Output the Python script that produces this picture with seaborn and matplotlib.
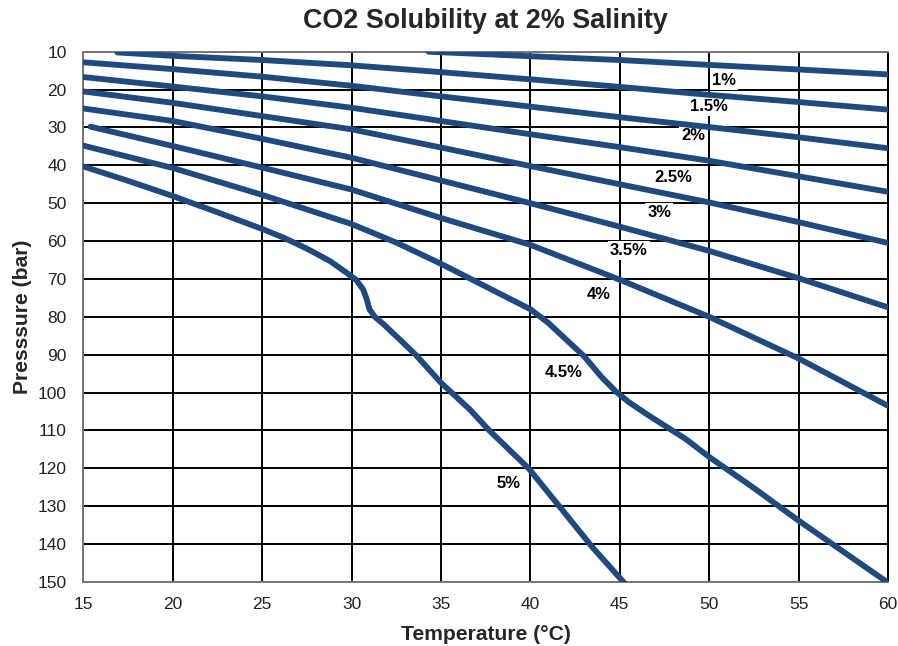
import matplotlib
matplotlib.use("Agg")
import matplotlib.pyplot as plt
import seaborn as sns
import pandas as pd

# Solubility isolines: temperature (°C) and pressure (bar) per CO2 content
salinity_labels = ["1%", "1.5%", "2%", "2.5%", "3%", "3.5%", "4%", "4.5%", "5%"]

t_1 = [34.3, 40, 45, 50, 55, 60]
p_1 = [10.0, 11.2, 12.2, 13.5, 14.7, 16.0]

t_15 = [16.9, 20, 25, 30, 35, 40, 45, 50, 55, 60]
p_15 = [10.2, 11.1, 12.2, 13.6, 15.4, 17.3, 19.3, 21.4, 23.3, 25.3]

t_2 = [15, 20, 25, 30, 35, 40, 45, 50, 55, 60]
p_2 = [12.8, 14.6, 16.6, 19.0, 21.8, 24.5, 27.3, 29.9, 32.6, 35.5]

t_25 = [15, 20, 25, 30, 35, 40, 45, 50, 55, 60]
p_25 = [16.7, 19.2, 21.8, 24.8, 28.3, 31.8, 35.2, 38.8, 42.9, 47.0]

t_3 = [15, 20, 25, 30, 35, 40, 45, 50, 55, 60]
p_3 = [20.5, 23.5, 27.0, 30.5, 35.3, 40.2, 45.0, 49.8, 55.0, 60.5]

t_35 = [15, 20, 25, 30, 35, 40, 45, 50, 55, 60]
p_35 = [25.0, 28.3, 33.0, 38.0, 44.0, 50.0, 56.2, 62.6, 69.8, 77.5]

t_4 = [15.4, 20, 25, 30, 35, 40, 45, 50, 55, 60]
p_4 = [29.8, 34.9, 40.6, 46.4, 53.9, 61.0, 70.2, 80.0, 91.0, 103.5]

t_45 = [15, 20, 25, 30, 32.5, 35, 37.5, 40, 41, 42, 43, 44, 44.8, 45.5, 46.6, 48.7, 50,
        52.5, 55, 57.5, 60]
p_45 = [34.8, 40.7, 47.8, 55.5, 60.4, 66.0, 72.0, 78.0, 81.6, 86.0, 90.4, 96.0, 99.8, 102.5,
        106.0, 112.3, 117.0, 125.2, 133.8, 142.0, 150.2]

t_5 = [15, 17.5, 20, 22.5, 25, 26.2, 27.5, 28.8, 29.7, 30.25, 30.65, 30.85, 31.0, 31.3, 31.8,
       32.7, 33.6, 35.0, 36.6, 37.7, 39.9, 41.7, 43.5, 45.3]
p_5 = [40.3, 44.1, 48.1, 52.4, 56.8, 59.1, 62.0, 65.3, 68.3, 70.2, 72.8, 75.4, 78.0, 80.0, 82.0,
       86.0, 90.1, 97.4, 104.4, 110.0, 120.0, 130.5, 141.0, 150.5]

curves = [(t_1, p_1), (t_15, p_15), (t_2, p_2), (t_25, p_25), (t_3, p_3),
          (t_35, p_35), (t_4, p_4), (t_45, p_45), (t_5, p_5)]

# Where each curve's label sits (temperature, pressure)
label_t = [50.8, 50.0, 49.1, 48.0, 47.2, 45.5, 43.8, 41.85, 38.8]
label_p = [17.5, 24.6, 32.0, 43.2, 52.4, 62.5, 74.1, 94.7, 124.0]

x_ticks = [15, 20, 25, 30, 35, 40, 45, 50, 55, 60]
y_ticks = [10, 20, 30, 40, 50, 60, 70, 80, 90, 100, 110, 120, 130, 140, 150]

rows = []
for name, (ts, ps) in zip(salinity_labels, curves):
    for order, (t, p) in enumerate(zip(ts, ps)):
        rows.append({"Salinity": name, "order": order, "Temperature": t, "Pressure": p})
df = pd.DataFrame(rows)

sns.set_style("white")
plt.rcParams["font.family"] = ["Liberation Sans", "DejaVu Sans"]

line_color = "#1F4A80"

fig = plt.figure(figsize=(8.98, 6.46), dpi=100)
ax = fig.add_axes([0.0928, 0.0991, 0.8961, 0.8209])

sns.lineplot(data=df, x="Temperature", y="Pressure", hue="Salinity",
             palette={s: line_color for s in salinity_labels}, units="Salinity",
             estimator=None, sort=False, legend=False, linewidth=4.2, ax=ax,
             solid_capstyle="round", solid_joinstyle="round", zorder=4)

for txt, t, p in zip(salinity_labels, label_t, label_p):
    ax.text(t, p, txt, ha="center", va="center", fontsize=12, fontweight="bold",
            color="black", zorder=3,
            bbox=dict(facecolor="white", edgecolor="none", pad=1.5))

ax.set_xlim(15, 60)
ax.set_ylim(150, 10)
ax.set_xticks(x_ticks)
ax.set_yticks(y_ticks)
ax.grid(True, color="black", linewidth=1.4, zorder=1)
ax.set_axisbelow(True)
for side in ["left", "bottom", "top"]:
    ax.spines[side].set_color("#777777")
    ax.spines[side].set_linewidth(1.4)
ax.spines["right"].set_color("black")
ax.spines["right"].set_linewidth(1.4)

ax.tick_params(axis="x", length=4, color="#999999", labelsize=12.5, labelcolor="#222222", pad=7)
ax.tick_params(axis="y", length=0, labelsize=12.5, labelcolor="#222222", pad=12)

ax.set_xlabel("Temperature (°C)", fontsize=15.2, fontweight="bold", labelpad=9)
ax.set_ylabel("Presssure (bar)", fontsize=15.2, fontweight="bold", labelpad=4)
ax.set_title("CO2 Solubility at 2% Salinity", fontsize=19.4, fontweight="bold", pad=17)

fig.savefig("out.png", dpi=100)
